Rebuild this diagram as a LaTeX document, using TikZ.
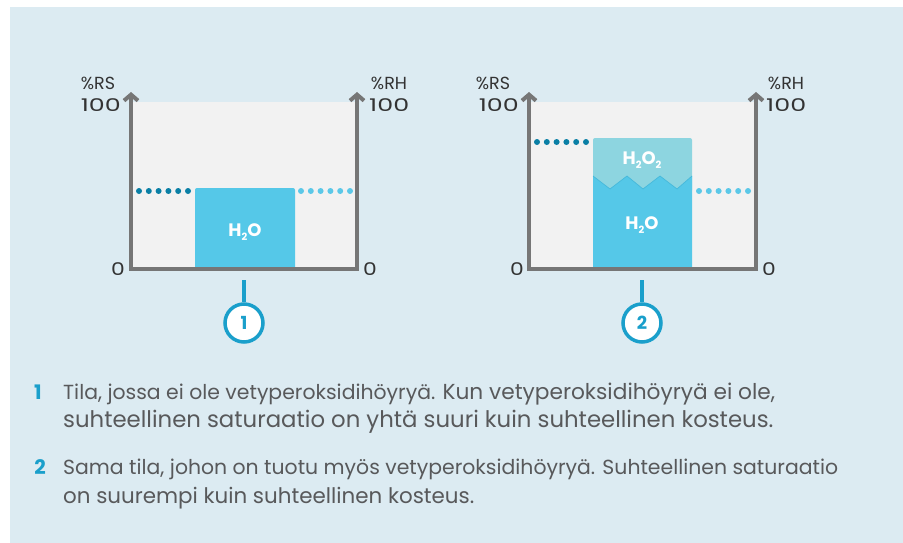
\documentclass[tikz,border=0pt]{standalone}
\usepackage{fontspec}
\setmainfont{Poppins}
\usetikzlibrary{arrows.meta}
\definecolor{bgblue}{HTML}{DCEBF2}
\definecolor{chartbg}{HTML}{F2F2F2}
\definecolor{axisgrey}{HTML}{767676}
\definecolor{water}{HTML}{55C8E8}
\definecolor{perox}{HTML}{8DD5E0}
\definecolor{darkdot}{HTML}{0A7FA5}
\definecolor{lightdot}{HTML}{5BC8E8}
\definecolor{ringblue}{HTML}{1A9FCB}
\definecolor{bodygrey}{HTML}{58595B}
\definecolor{labelgrey}{HTML}{333333}
\tikzset{
  axisline/.style={draw=axisgrey, line width=4pt, line join=miter,
    {Straight Barb[length=6pt,width=14pt]}-{Straight Barb[length=6pt,width=14pt]}},
  axlabel/.style={font=\fontsize{17.5}{17.5}\selectfont, text=labelgrey, inner sep=0pt},
  chem/.style={font=\bfseries\fontsize{18}{18}\selectfont, text=white, inner sep=0pt},
  ring/.style={circle, draw=ringblue, line width=3.5pt, fill=white, minimum size=38pt,
    inner sep=0pt, font=\fontsize{18}{18}\selectfont\bfseries, text=ringblue},
  stem/.style={draw=ringblue, line width=3.5pt},
  bodytext/.style={font=\fontsize{20.4}{20.4}\selectfont, text=bodygrey, inner sep=0pt, anchor=base west},
  bodynum/.style={font=\bfseries\fontsize{20}{20}\selectfont, text=ringblue, inner sep=0pt, anchor=base}
}
\newcommand{\sub}[1]{\raisebox{-4pt}{\fontsize{10}{10}\selectfont #1}}
\newcommand{\wnum}[1]{\scalebox{1.45}[1]{#1}}
\newcommand{\bigtxt}{\fontsize{21.7}{21.7}\selectfont}
\newcommand{\bigtxtb}{\fontsize{22.8}{22.8}\selectfont}
\newcommand{\midtxt}{\fontsize{21.4}{21.4}\selectfont}
\begin{document}
\begin{tikzpicture}[x=1pt,y=-1pt]
\useasboundingbox (0,0) rectangle (903,543);
\fill[bgblue] (10,7) rectangle (903,543);

% ---------- chart 1 ----------
\fill[chartbg] (131,102) rectangle (357,269);
\fill[water, rounded corners=2pt] (195,269) -- (195,188) -- (295,188) -- (295,269) [sharp corners] -- cycle;
\node[chem] (h2o1) at (245,232) {H\sub{2}O};
\foreach \i in {0,...,5} {
  \fill[darkdot] (139+9.8*\i,191) circle (3pt);
  \fill[lightdot] (301+9.8*\i,191) circle (3pt);
}
\coordinate (a1top) at (131,92);
\coordinate (a1bl) at (131,269);
\coordinate (a1br) at (357,269);
\coordinate (a1rtop) at (357,92);
\draw[axisline] (a1top) -- (a1bl) -- (a1br) -- (a1rtop);
\node[axlabel] (rs1) at (98,83) {\%RS};
\node[axlabel, anchor=east] (top1l) at (121,105) {\wnum{100}};
\node[axlabel] (zero1l) at (118,269) {\scalebox{1.25}[1]{0}};
\node[axlabel] (rh1) at (389,83) {\%RH};
\node[axlabel, anchor=west] (top1r) at (369,105) {\wnum{100}};
\node[axlabel] (zero1r) at (370,269) {\scalebox{1.25}[1]{0}};
\coordinate (stem1) at (244,280);
\node[ring] (c1) at (244,323) {1};
\draw[stem] (stem1) -- (c1.north);

% ---------- chart 2 ----------
\fill[chartbg] (529,102) rectangle (756,269);
\fill[perox, rounded corners=2pt] (593,192) -- (593,138) -- (692,138) -- (692,192) [sharp corners] -- cycle;
\fill[water] (593,269) -- (593,176) -- (610,189) -- (627,176) -- (643,189) -- (660,176) -- (677,189) -- (692,176) -- (692,269) -- cycle;
\draw[draw=water!80!darkdot, line width=0.7pt] (593,176) -- (610,189) -- (627,176) -- (643,189) -- (660,176) -- (677,189) -- (692,176);
\node[chem] (h2o2) at (642,160) {H\sub{2}O\sub{2}};
\node[chem] (h2o3) at (642,225) {H\sub{2}O};
\foreach \i in {0,...,5} {
  \fill[darkdot] (537+9.8*\i,142) circle (3pt);
  \fill[lightdot] (699+9.8*\i,191) circle (3pt);
}
\coordinate (a2top) at (529,92);
\coordinate (a2bl) at (529,269);
\coordinate (a2br) at (756,269);
\coordinate (a2rtop) at (756,92);
\draw[axisline] (a2top) -- (a2bl) -- (a2br) -- (a2rtop);
\node[axlabel] (rs2) at (493,83) {\%RS};
\node[axlabel, anchor=east] (top2l) at (519,105) {\wnum{100}};
\node[axlabel] (zero2l) at (517,269) {\scalebox{1.25}[1]{0}};
\node[axlabel] (rh2) at (786,83) {\%RH};
\node[axlabel, anchor=west] (top2r) at (766,105) {\wnum{100}};
\node[axlabel] (zero2r) at (769,269) {\scalebox{1.25}[1]{0}};
\coordinate (stem2) at (642,280);
\node[ring] (c2) at (642,323) {2};
\draw[stem] (stem2) -- (c2.north);

% ---------- captions ----------
\node[bodynum] (n1) at (38,399) {1};
\node[bodytext] (t1a) at (63,399) {Tila, jossa ei ole vetyperoksidihöyryä. {\bigtxt Kun vetyperoksidihöyryä ei ole,}};
\node[bodytext, font=\bigtxtb] (t1b) at (63,427) {suhteellinen saturaatio on yhtä suuri kuin suhteellinen kosteus.};
\node[bodynum] (n2) at (40,474) {2};
\node[bodytext] (t2a) at (63,474) {Sama tila, johon on tuotu myös vetyperoksidihöyryä. Suhteellinen saturaatio};
\node[bodytext, font=\midtxt] (t2b) at (63,503) {on suurempi kuin suhteellinen kosteus.};
\end{tikzpicture}
\end{document}
